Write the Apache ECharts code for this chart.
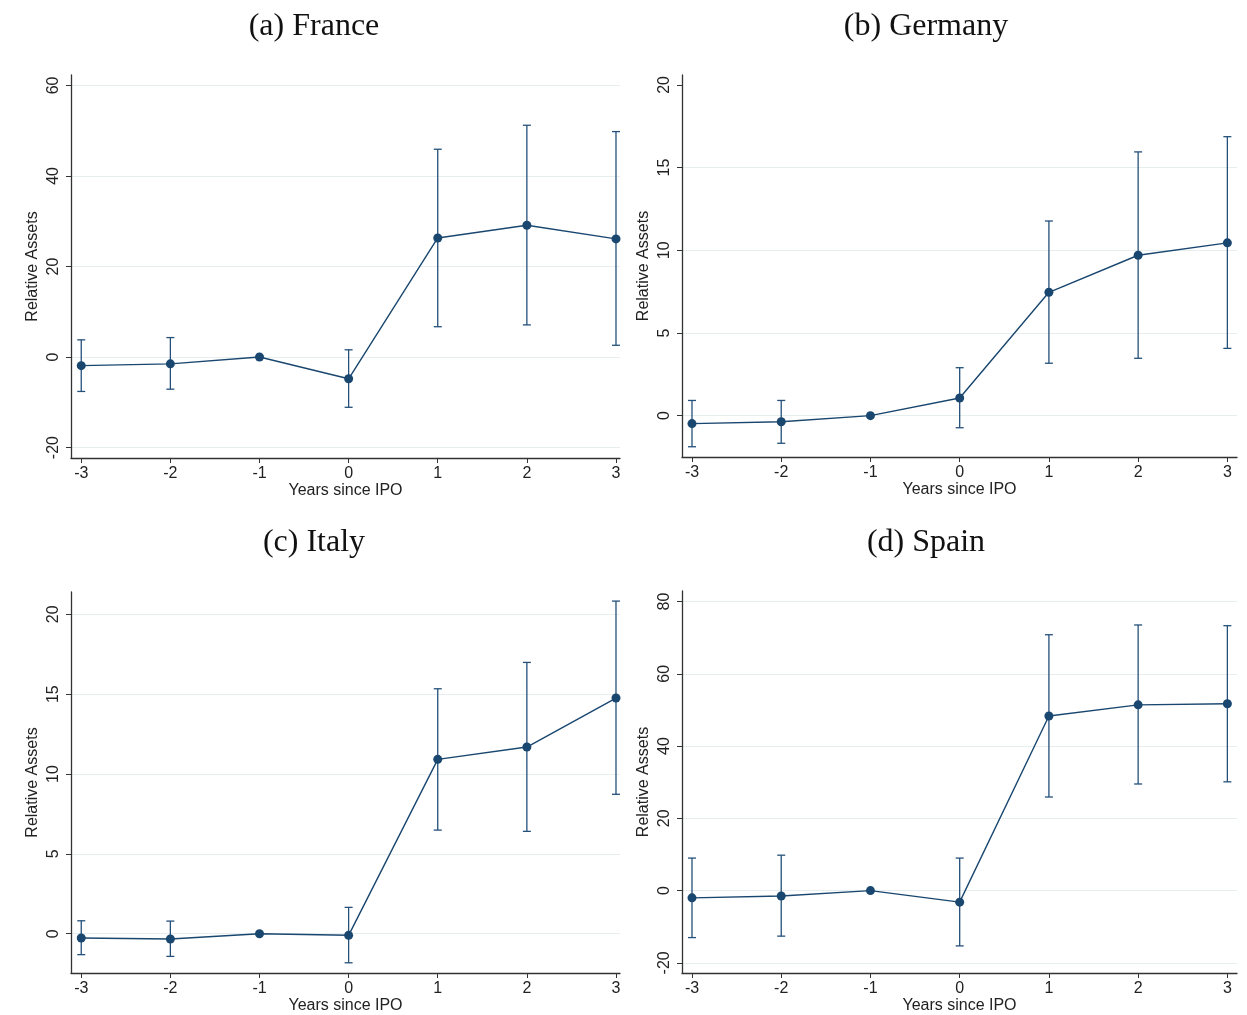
<!DOCTYPE html>
<html>
<head>
<meta charset="utf-8">
<script src="https://cdn.jsdelivr.net/npm/echarts@6/dist/echarts.min.js"></script>
<style>
html,body{margin:0;padding:0;background:#fff;}
#chart{width:1247px;height:1015px;}
</style>
</head>
<body>
<div id="chart"></div>
<script>
const years = [-3, -2, -1, 0, 1, 2, 3];
const xTicks = [-3, -2, -1, 0, 1, 2, 3];

const panelTitles = ['(a) France', '(b) Germany', '(c) Italy', '(d) Spain'];

const franceEst = [-1.9, -1.5, 0, -4.8, 26.3, 29.1, 26.1];
const franceLo  = [-7.6, -7.1, null, -11.1, 6.7, 7.1, 2.6];
const franceHi  = [3.8, 4.3, null, 1.6, 45.9, 51.2, 49.8];
const franceTicks = [-20, 0, 20, 40, 60];
const franceGrid  = [-20, 0, 20, 40, 60];

const germanyEst = [-0.48, -0.37, 0, 1.07, 7.46, 9.7, 10.45];
const germanyLo  = [-1.88, -1.67, null, -0.73, 3.17, 3.47, 4.07];
const germanyHi  = [0.92, 0.92, null, 2.9, 11.77, 15.95, 16.87];
const germanyTicks = [0, 5, 10, 15, 20];
const germanyGrid  = [0, 5, 10, 15];

const italyEst = [-0.27, -0.33, 0, -0.1, 10.92, 11.69, 14.76];
const italyLo  = [-1.31, -1.42, null, -1.82, 6.49, 6.41, 8.73];
const italyHi  = [0.81, 0.79, null, 1.65, 15.34, 16.99, 20.83];
const italyTicks = [0, 5, 10, 15, 20];
const italyGrid  = [0, 5, 10, 15, 20];

const spainEst = [-2.0, -1.5, 0, -3.2, 48.3, 51.4, 51.7];
const spainLo  = [-13.0, -12.6, null, -15.3, 25.9, 29.5, 30.1];
const spainHi  = [9.0, 9.8, null, 9.0, 70.8, 73.5, 73.3];
const spainTicks = [-20, 0, 20, 40, 60, 80];
const spainGrid  = [-20, 0, 20, 40, 60, 80];

const panels = [
  {est: franceEst, lo: franceLo, hi: franceHi, ticks: franceTicks, gl: franceGrid,
   grid: {left: 71, top: 75, width: 549, height: 383}, xr: [-3.115, 3.045], yr: [-22.3, 62.3],
   title: {x: 309, y: 22}},
  {est: germanyEst, lo: germanyLo, hi: germanyHi, ticks: germanyTicks, gl: germanyGrid,
   grid: {left: 682, top: 75, width: 555, height: 382}, xr: [-3.112, 3.108], yr: [-2.5, 20.6],
   title: {x: 921, y: 22}},
  {est: italyEst, lo: italyLo, hi: italyHi, ticks: italyTicks, gl: italyGrid,
   grid: {left: 71, top: 592, width: 549, height: 381}, xr: [-3.115, 3.045], yr: [-2.46, 21.4],
   title: {x: 309, y: 538}},
  {est: spainEst, lo: spainLo, hi: spainHi, ticks: spainTicks, gl: spainGrid,
   grid: {left: 682, top: 591, width: 555, height: 382}, xr: [-3.112, 3.108], yr: [-22.8, 82.9],
   title: {x: 921, y: 538}}
];

const NAVY = '#1a476f';
const AXIS = '#333333';
const FONT = '"Liberation Sans", Arial, sans-serif';

const option = {
  animation: false,
  backgroundColor: '#ffffff',
  title: [], grid: [], xAxis: [], yAxis: [], series: []
};

panels.forEach((p, i) => {
  option.title.push({
    text: panelTitles[i], left: p.title.x, top: p.title.y, textAlign: 'center', textVerticalAlign: 'middle',
    textStyle: {fontFamily: '"Liberation Serif", "DejaVu Serif", serif', fontSize: 32, fontWeight: 'normal', color: '#111'}
  });
  option.grid.push(Object.assign({containLabel: false}, p.grid));
  option.xAxis.push({
    type: 'value', gridIndex: i, min: p.xr[0], max: p.xr[1],
    name: 'Years since IPO', nameLocation: 'middle', nameGap: 25,
    nameTextStyle: {fontFamily: FONT, fontSize: 16, color: '#222'},
    axisLine: {show: true, onZero: false, lineStyle: {color: AXIS, width: 1.3}},
    axisTick: {show: true, length: 5, customValues: xTicks, lineStyle: {color: AXIS}},
    axisLabel: {customValues: xTicks, fontFamily: FONT, fontSize: 16, color: '#222', margin: 8},
    splitLine: {show: false}
  });
  option.yAxis.push({
    type: 'value', gridIndex: i, min: p.yr[0], max: p.yr[1],
    name: 'Relative Assets', nameLocation: 'middle', nameGap: 30, nameRotate: 90,
    nameTextStyle: {fontFamily: FONT, fontSize: 16, color: '#222'},
    axisLine: {show: true, onZero: false, lineStyle: {color: AXIS, width: 1.3}},
    axisTick: {show: true, length: 5, customValues: p.ticks, lineStyle: {color: AXIS}},
    axisLabel: {customValues: p.ticks, rotate: 90, fontFamily: FONT, fontSize: 16, color: '#222', margin: 9},
    splitLine: {show: false}
  });
  // gridlines
  option.series.push({
    type: 'line', xAxisIndex: i, yAxisIndex: i, data: [], silent: true, z: 0,
    markLine: {
      silent: true, z: 0, symbol: ['none', 'none'], label: {show: false},
      lineStyle: {color: '#e6eef0', width: 1.2, type: 'solid'},
      data: p.gl.map(v => ({yAxis: v}))
    }
  });
  // error bars
  const ebData = years.map((x, k) => [x, p.lo[k], p.hi[k]]).filter(d => d[1] != null);
  option.series.push({
    type: 'custom', xAxisIndex: i, yAxisIndex: i, data: ebData, z: 6, silent: true,
    renderItem: function (params, api) {
      const x = api.value(0);
      const lo = api.coord([x, api.value(1)]);
      const hi = api.coord([x, api.value(2)]);
      const hw = 4;
      const st = {stroke: '#24507a', lineWidth: 1.3, fill: null};
      return {
        type: 'group', children: [
          {type: 'line', shape: {x1: lo[0], y1: lo[1], x2: hi[0], y2: hi[1]}, style: st},
          {type: 'line', shape: {x1: lo[0] - hw, y1: lo[1], x2: lo[0] + hw, y2: lo[1]}, style: st},
          {type: 'line', shape: {x1: hi[0] - hw, y1: hi[1], x2: hi[0] + hw, y2: hi[1]}, style: st}
        ]
      };
    }
  });
  // estimates
  option.series.push({
    type: 'line', xAxisIndex: i, yAxisIndex: i, z: 8, silent: true,
    data: years.map((x, k) => [x, p.est[k]]),
    symbol: 'circle', symbolSize: 9, showSymbol: true,
    lineStyle: {color: NAVY, width: 1.4},
    itemStyle: {color: NAVY}
  });
});

const chart = echarts.init(document.getElementById('chart'), null, {renderer: 'canvas'});
chart.setOption(option);
</script>
</body>
</html>
